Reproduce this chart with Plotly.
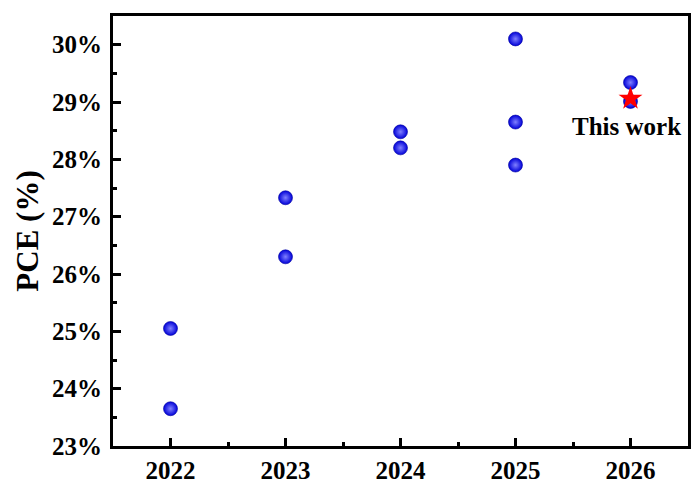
import plotly.graph_objects as go

years = [2022, 2022, 2023, 2023, 2024, 2024, 2025, 2025, 2025, 2026, 2026]
pce = [25.05, 23.65, 27.33, 26.30, 28.48, 28.20, 30.10, 28.65, 27.90, 29.34, 29.01]
this_work_year = [2026]
this_work_pce = [29.06]
x_ticks = [2022, 2023, 2024, 2025, 2026]
y_ticks = [23, 24, 25, 26, 27, 28, 29, 30]

FONT = "Liberation Serif, Times New Roman, serif"

fig = go.Figure()
fig.add_trace(go.Scatter(
    x=years, y=pce, mode="markers",
    marker=dict(size=14, color="#0000d8",
                gradient=dict(type="radial", color="#8080ff"),
                line=dict(width=0.6, color="#0000a0")),
    showlegend=False, hoverinfo="skip"))
fig.add_trace(go.Scatter(
    x=this_work_year, y=this_work_pce, mode="markers",
    marker=dict(symbol="star", size=18, color="#ff0000", line=dict(width=0)),
    showlegend=False))

fig.add_annotation(x=2026, y=28.58, text="This work", showarrow=False,
                   xshift=-4, font=dict(family=FONT, size=25, color="black", weight="bold"))

fig.update_layout(
    width=693, height=486,
    margin=dict(l=113, r=2, t=16, b=36),
    paper_bgcolor="white", plot_bgcolor="white",
    font=dict(family=FONT, size=25, color="black", weight="bold"),
    xaxis=dict(range=[2021.5, 2026.5], tickvals=x_ticks, ticktext=[str(v) for v in x_ticks],
               showgrid=False, zeroline=False, showline=True, linewidth=3, linecolor="black",
               mirror=True, ticks="inside", ticklen=8, tickwidth=3, tickcolor="black",
               ticklabelstandoff=0,
               minor=dict(ticks="inside", ticklen=4, tickwidth=3, tickcolor="black",
                          tick0=2021.5, dtick=1, showgrid=False),
               tickfont=dict(family=FONT, size=25, color="black", weight="bold")),
    yaxis=dict(range=[23, 30.5], tickvals=y_ticks, ticktext=[f"{v}%" for v in y_ticks],
               showgrid=False, zeroline=False, showline=True, linewidth=3, linecolor="black",
               mirror=True, ticks="inside", ticklen=8, tickwidth=3, tickcolor="black",
               ticklabelstandoff=3,
               minor=dict(ticks="inside", ticklen=4, tickwidth=3, tickcolor="black",
                          tick0=23.5, dtick=1, showgrid=False),
               tickfont=dict(family=FONT, size=25, color="black", weight="bold"),
               title=dict(text="PCE (%)", standoff=5,
                          font=dict(family=FONT, size=31, color="black", weight="bold"))),
)

fig.write_html("out.html", config={"displayModeBar": False},
               post_script="document.body.style.margin='0px';document.body.style.overflow='hidden';")
